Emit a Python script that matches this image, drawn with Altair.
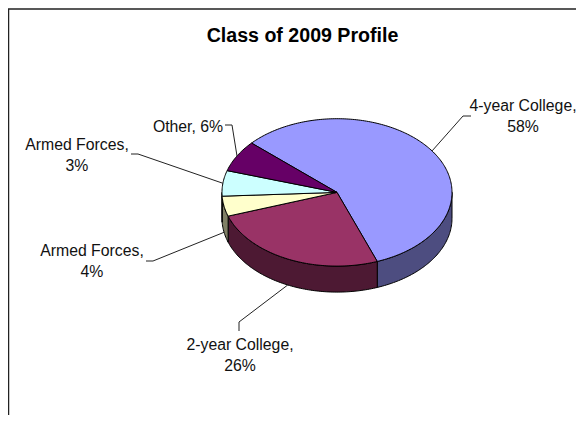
import math
import altair as alt

# --- data ---
title = "Class of 2009 Profile"
categories = ["4-year College", "2-year College", "Armed Forces", "Armed Forces", "Other"]
shown_pct = [58, 26, 4, 3, 6]
slice_share = [57.7, 25.5, 4.4, 5.6, 6.9]
top_colors = ["#9999FF", "#993366", "#FFFFCC", "#CCFFFF", "#660066"]
wall_colors = ["#4D4D80", "#4D1933", "#808066", "#668080", "#330033"]

# --- layout (chart pixels) ---
W, H = 568, 407
CX, CY, RX, RY, DEPTH = 329, 184.4, 115, 73.7, 26
START = -48.0
FONT = "Liberation Sans"
LABEL_SIZE = 15.8
TITLE_SIZE = 19.6
label_xy = [(515, 98), (232, 337), (84, 243), (69, 137), (180, 119)]
elbows = [[(463, 108), (455, 108)], [(231, 323), (231, 314)], [(138, 253), (145, 253)],
          [(123, 146), (130, 146)], [(217, 117), (224, 117)]]
LINE_GAP = 21


def rim(a, drop=0.0):
    r = math.radians(a)
    return (CX + RX * math.sin(r), CY - RY * math.cos(r) + drop)


total = sum(slice_share)
edges = [START]
for v in slice_share:
    edges.append(edges[-1] + v / total * 360)


def arc_pts(a, b, drop=0.0):
    n = max(2, int(abs(b - a)) + 1)
    return [rim(a + (b - a) * i / n, drop) for i in range(n + 1)]


def feature(pts, fill):
    ring = [list(p) for p in pts] + [list(pts[0])]
    return {"type": "Feature", "properties": {"fill": fill},
            "geometry": {"type": "Polygon", "coordinates": [ring]}}


features = []
for i, c in enumerate(wall_colors):
    a, b = max(edges[i], 90), min(edges[i + 1], 270)
    if b > a:
        features.append(feature(arc_pts(a, b) + arc_pts(b, a, DEPTH), c))
for i, c in enumerate(top_colors):
    features.append(feature([(CX, CY)] + arc_pts(edges[i], edges[i + 1]), c))

pie = alt.Chart(alt.Data(values=features)).mark_geoshape(
    stroke="black", strokeWidth=1, strokeJoin="round"
).encode(
    fill=alt.Fill("properties.fill:N", scale=None)
).project(type="identity", scale=1, translate=[0, 0])

xs = alt.Scale(domain=[0, W], range=[0, W])
ys = alt.Scale(domain=[0, H], range=[0, H])

# leader lines: from label elbow to the rim at each slice's mid-angle
rows = []
for i in range(len(categories)):
    mid = (edges[i] + edges[i + 1]) / 2
    drop = DEPTH if 90 < (mid % 360) < 270 else 0
    path = elbows[i] + [rim(mid, drop)]
    for k, (x, y) in enumerate(path):
        rows.append({"id": i, "k": k, "x": x, "y": y})

leaders = alt.Chart(alt.Data(values=rows)).mark_line(
    color="#222222", strokeWidth=1
).encode(
    x=alt.X("x:Q", scale=xs, axis=None),
    y=alt.Y("y:Q", scale=ys, axis=None),
    detail="id:N",
    order="k:Q",
)

frame_rows = [{"x": W, "y": 1}, {"x": 0.5, "y": 1}, {"x": 0.5, "y": H}]
frame = alt.Chart(alt.Data(values=[dict(r, k=i) for i, r in enumerate(frame_rows)])).mark_line(
    color="#222222", strokeWidth=1.5
).encode(
    x=alt.X("x:Q", scale=xs, axis=None),
    y=alt.Y("y:Q", scale=ys, axis=None),
    order="k:Q",
)

text_rows = []
for i, cat in enumerate(categories):
    x, y = label_xy[i]
    if cat == "Other":
        text_rows.append({"x": x, "y": y, "t": f"{cat}, {shown_pct[i]}%"})
    else:
        text_rows.append({"x": x, "y": y, "t": f"{cat},"})
        text_rows.append({"x": x, "y": y + LINE_GAP, "t": f"{shown_pct[i]}%"})

labels = alt.Chart(alt.Data(values=text_rows)).mark_text(
    font=FONT, fontSize=LABEL_SIZE, color="#111111", align="center", baseline="middle"
).encode(
    x=alt.X("x:Q", scale=xs, axis=None),
    y=alt.Y("y:Q", scale=ys, axis=None),
    text="t:N",
)

title_mark = alt.Chart(alt.Data(values=[{"x": 294.5, "y": 28, "t": title}])).mark_text(
    font=FONT, fontSize=TITLE_SIZE, fontWeight="bold", color="black", align="center", baseline="middle"
).encode(
    x=alt.X("x:Q", scale=xs, axis=None),
    y=alt.Y("y:Q", scale=ys, axis=None),
    text="t:N",
)

chart = alt.layer(pie, leaders, frame, labels, title_mark).properties(
    width=W, height=H, padding=0, autosize=alt.AutoSizeParams(type="none"),
    background="white",
).configure_view(stroke=None)

chart.save("out.html", embed_options={"renderer": "svg", "actions": False})
